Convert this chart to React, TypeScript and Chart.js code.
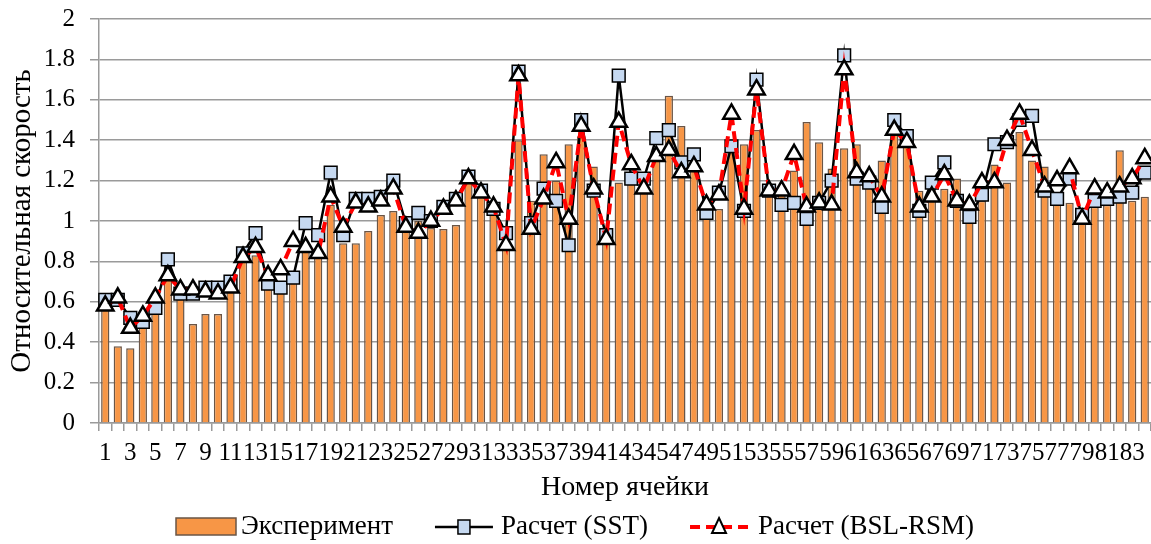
import React, { useEffect, useRef } from 'react';
import { Chart, registerables } from 'chart.js';

Chart.register(...registerables);

const categories = [
  '1','2','3','4','5','6','7','8','9','10','11','12','13','14','15','16','17','18','19','20',
  '21','22','23','24','25','26','27','28','29','30','31','32','33','34','35','36','37','38','39','40',
  '41','42','43','44','45','46','47','48','49','50','51','52','53','54','55','56','57','58','59','60',
  '61','62','63','64','65','66','67','68','69','70','71','72','73','74','75','76','77','78','79','80',
  '81','82','83','84',
];

const experiment = [
  0.59, 0.38, 0.37, 0.49, 0.56, 0.79, 0.62, 0.49, 0.54, 0.54,
  0.66, 0.83, 0.83, 0.70, 0.67, 0.72, 0.86, 0.84, 1.08, 0.89,
  0.89, 0.95, 1.03, 1.05, 0.96, 1.00, 0.965, 0.96, 0.98, 1.22,
  1.12, 1.07, 0.95, 1.40, 1.10, 1.33, 1.20, 1.38, 1.42, 1.27,
  0.95, 1.19, 1.19, 1.18, 1.30, 1.62, 1.47, 1.28, 1.03, 1.06,
  1.35, 1.38, 1.45, 1.15, 1.15, 1.25, 1.49, 1.39, 1.26, 1.36,
  1.38, 1.17, 1.30, 1.45, 1.42, 1.15, 1.16, 1.16, 1.21, 1.07,
  1.10, 1.28, 1.19, 1.44, 1.30, 1.27, 1.11, 1.09, 1.06, 1.07,
  1.08, 1.35, 1.10, 1.12,
];

const sst = [
  0.61, 0.61, 0.52, 0.50, 0.57, 0.81, 0.64, 0.64, 0.67, 0.67,
  0.70, 0.84, 0.94, 0.69, 0.67, 0.72, 0.99, 0.93, 1.24, 0.93,
  1.11, 1.11, 1.12, 1.20, 0.99, 1.04, 1.00, 1.07, 1.11, 1.22,
  1.15, 1.06, 0.94, 1.74, 0.99, 1.16, 1.10, 0.88, 1.50, 1.15,
  0.93, 1.72, 1.21, 1.21, 1.41, 1.45, 1.29, 1.33, 1.04, 1.14,
  1.37, 1.05, 1.70, 1.15, 1.08, 1.09, 1.01, 1.09, 1.20, 1.82,
  1.21, 1.19, 1.07, 1.50, 1.42, 1.05, 1.19, 1.29, 1.10, 1.02,
  1.13, 1.38, 1.39, 1.50, 1.52, 1.15, 1.11, 1.21, 1.03, 1.10,
  1.11, 1.12, 1.14, 1.24,
];

const bslRsm = [
  0.58, 0.62, 0.47, 0.53, 0.62, 0.73, 0.66, 0.66, 0.65, 0.64,
  0.67, 0.82, 0.87, 0.73, 0.76, 0.90, 0.87, 0.84, 1.12, 0.97,
  1.09, 1.07, 1.10, 1.16, 0.97, 0.94, 1.00, 1.06, 1.10, 1.21,
  1.14, 1.07, 0.88, 1.72, 0.96, 1.11, 1.29, 1.01, 1.47, 1.16,
  0.91, 1.49, 1.28, 1.16, 1.32, 1.35, 1.24, 1.27, 1.08, 1.13,
  1.53, 1.06, 1.65, 1.15, 1.15, 1.33, 1.07, 1.09, 1.08, 1.75,
  1.24, 1.22, 1.12, 1.45, 1.39, 1.07, 1.12, 1.23, 1.10, 1.08,
  1.19, 1.19, 1.40, 1.53, 1.35, 1.17, 1.20, 1.26, 1.01, 1.16,
  1.14, 1.17, 1.21, 1.31,
];

const seriesNames = ['Эксперимент', 'Расчет (SST)', 'Расчет (BSL-RSM)'];
const xTitle = 'Номер ячейки';
const yTitle = 'Относительная скорость';

const FONT = '"Liberation Serif", "Times New Roman", serif';
const BAR_FILL = '#F79646';
const BAR_BORDER = '#6a5546';
const SQUARE_FILL = '#C6D9F1';
const GRID = '#9a9a9a';

const legendPlugin = {
  id: 'customLegend',
  afterDraw(chart: any) {
    const ctx = chart.ctx as CanvasRenderingContext2D;
    ctx.save();
    ctx.font = `27px ${FONT}`;
    ctx.textBaseline = 'middle';
    ctx.fillStyle = '#000';
    const y = chart.height - 17;
    const symW = [60, 58, 58];
    const symGap = [5, 8, 10];
    const itemGap = 42;
    const tw = seriesNames.map((t) => ctx.measureText(t).width);
    let total = 0;
    for (let i = 0; i < 3; i++) total += symW[i] + symGap[i] + tw[i];
    total += itemGap * 2;
    let x = Math.round(chart.width / 2 - total / 2);
    // Item 1: bar box
    ctx.fillStyle = BAR_FILL;
    ctx.fillRect(x, y - 9, symW[0], 17);
    ctx.strokeStyle = BAR_BORDER;
    ctx.lineWidth = 1.5;
    ctx.strokeRect(x, y - 9, symW[0], 17);
    x += symW[0] + symGap[0];
    ctx.fillStyle = '#000';
    ctx.fillText(seriesNames[0], x, y);
    x += tw[0] + itemGap;
    // Item 2: black line + square
    ctx.strokeStyle = '#000';
    ctx.lineWidth = 2.5;
    ctx.beginPath();
    ctx.moveTo(x, y);
    ctx.lineTo(x + symW[1], y);
    ctx.stroke();
    ctx.fillStyle = SQUARE_FILL;
    ctx.lineWidth = 1.5;
    ctx.fillRect(x + symW[1] / 2 - 6, y - 7, 12, 14);
    ctx.strokeRect(x + symW[1] / 2 - 6, y - 7, 12, 14);
    x += symW[1] + symGap[1];
    ctx.fillStyle = '#000';
    ctx.fillText(seriesNames[1], x, y);
    x += tw[1] + itemGap;
    // Item 3: red dashed + triangle
    ctx.strokeStyle = '#ff0000';
    ctx.lineWidth = 4;
    ctx.setLineDash([10, 6]);
    ctx.beginPath();
    ctx.moveTo(x, y);
    ctx.lineTo(x + symW[2], y);
    ctx.stroke();
    ctx.setLineDash([]);
    const cx = x + symW[2] / 2;
    ctx.fillStyle = '#fff';
    ctx.strokeStyle = '#000';
    ctx.lineWidth = 2;
    ctx.beginPath();
    ctx.moveTo(cx, y - 9);
    ctx.lineTo(cx + 7, y + 6);
    ctx.lineTo(cx - 7, y + 6);
    ctx.closePath();
    ctx.fill();
    ctx.stroke();
    x += symW[2] + symGap[2];
    ctx.fillStyle = '#000';
    ctx.fillText(seriesNames[2], x, y);
    ctx.restore();
  },
};

export default function App() {
  const ref = useRef<HTMLCanvasElement | null>(null);

  useEffect(() => {
    document.body.style.margin = '0';
    const canvas = ref.current;
    if (!canvas) return;
    const chart = new Chart(canvas, {
      type: 'bar',
      data: {
        labels: categories,
        datasets: [
          {
            type: 'bar',
            label: seriesNames[0],
            data: experiment,
            backgroundColor: BAR_FILL,
            borderColor: BAR_BORDER,
            borderWidth: 1.5,
            categoryPercentage: 1,
            barPercentage: 0.66,
            order: 3,
          } as any,
          {
            type: 'line',
            label: seriesNames[1],
            data: sst,
            borderColor: '#000',
            borderWidth: 2.5,
            pointStyle: 'rect',
            pointRadius: 9,
            pointBackgroundColor: SQUARE_FILL,
            pointBorderColor: '#000',
            pointBorderWidth: 1.5,
            tension: 0,
            clip: false,
            order: 2,
          } as any,
          {
            type: 'line',
            label: seriesNames[2],
            data: bslRsm,
            borderColor: '#ff0000',
            borderWidth: 4,
            borderDash: [11, 6],
            pointStyle: 'triangle',
            pointRadius: 9.5,
            pointBackgroundColor: '#ffffff',
            pointBorderColor: '#000',
            pointBorderWidth: 2.5,
            tension: 0,
            clip: false,
            order: 1,
          } as any,
        ],
      },
      options: {
        responsive: false,
        animation: false,
        devicePixelRatio: 1,
        layout: { autoPadding: false, padding: { top: 19, right: 0, bottom: 40, left: 0 } },
        plugins: {
          legend: { display: false },
          tooltip: { enabled: false },
        },
        scales: {
          x: {
            offset: true,
            grid: {
              offset: true,
              drawOnChartArea: false,
              drawTicks: true,
              tickLength: 8,
              color: GRID,
              lineWidth: 1.5,
            },
            border: { display: true, color: GRID, width: 1.5 },
            ticks: {
              autoSkip: false,
              maxRotation: 0,
              minRotation: 0,
              padding: 7,
              color: '#000',
              font: { family: FONT, size: 25 },
              callback: (_v: any, i: number) => (i % 2 === 0 ? categories[i] : ''),
            },
            title: {
              display: true,
              text: xTitle,
              color: '#000',
              font: { family: FONT, size: 28 },
              padding: { top: 0, bottom: 0 },
            },
            afterFit: (scale: any) => {
              scale.height = 81;
              scale.paddingLeft = 0;
              scale.paddingRight = 0;
            },
          },
          y: {
            min: 0,
            max: 2,
            ticks: {
              stepSize: 0.2,
              padding: 15,
              color: '#000',
              font: { family: FONT, size: 25 },
              callback: (v: any) => String(Math.round(Number(v) * 10) / 10),
            },
            grid: {
              color: GRID,
              lineWidth: 1.5,
              tickLength: 9,
              drawTicks: true,
            },
            border: { display: true, color: GRID, width: 1.5 },
            title: {
              display: true,
              text: yTitle,
              color: '#000',
              font: { family: FONT, size: 29 },
              padding: { top: 5, bottom: 0 },
            },
            afterFit: (scale: any) => {
              scale.width = 99;
              scale.paddingTop = 0;
              scale.paddingBottom = 0;
            },
          },
        },
      },
      plugins: [legendPlugin],
    } as any);
    return () => chart.destroy();
  }, []);

  return (
    <div style={{ position: 'absolute', left: 0, top: 0, width: 1151, height: 544, background: '#fff', overflow: 'hidden' }}>
      <canvas ref={ref} width={1151} height={544} style={{ display: 'block', width: 1151, height: 544 }} />
    </div>
  );
}
